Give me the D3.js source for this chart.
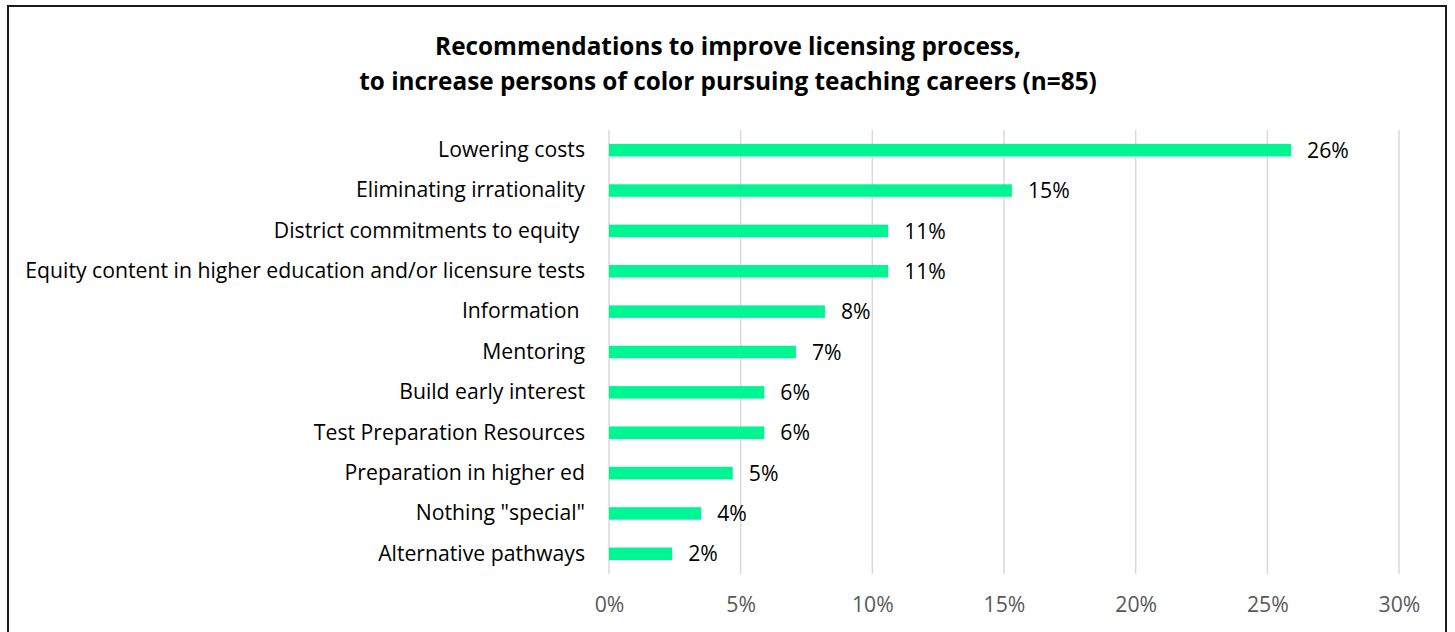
<!DOCTYPE html>
<html><head><meta charset="utf-8">
<script src="https://cdn.jsdelivr.net/npm/d3@7"></script>
<style>
html,body{margin:0;padding:0;background:#fff;}
text{white-space:pre;}
</style></head>
<body>
<svg id="chart" width="1455" height="632"></svg>
<script>
const titleLines = ["Recommendations to improve licensing process,", "to increase persons of color pursuing teaching careers (n=85)"];
const categories = ["Lowering costs","Eliminating irrationality","District commitments to equity ","Equity content in higher education and/or licensure tests","Information ","Mentoring","Build early interest","Test Preparation Resources","Preparation in higher ed","Nothing \"special\"","Alternative pathways"];
const values = [0.259, 0.153, 0.106, 0.106, 0.082, 0.071, 0.059, 0.059, 0.047, 0.035, 0.024];
const ticks = [0, 0.05, 0.10, 0.15, 0.20, 0.25, 0.30];

const FONT = "'Open Sans', sans-serif";
const svg = d3.select("#chart");
svg.append("rect").attr("x",8).attr("y",6).attr("width",1438).attr("height",640)
  .attr("fill","#fff").attr("stroke","#1a1a1a").attr("stroke-width",2);

const x = d3.scaleLinear().domain([0,0.30]).range([609,1399]);
const y = d3.scaleBand().domain(categories).range([130,574]).paddingInner(0.69).paddingOuter(0.345);

// title
const title = svg.append("g").selectAll("text").data(titleLines).join("text")
  .attr("x",728).attr("y",(d,i)=>55+i*35).attr("text-anchor","middle")
  .attr("font-family",FONT).attr("font-weight","bold").attr("font-size",22).attr("fill","#000").text(d=>d);
const tw = title.nodes()[1].getComputedTextLength();
title.attr("font-size", 22*738/tw);

// gridlines
svg.append("g").selectAll("line").data(ticks).join("line")
  .attr("x1",d=>x(d)).attr("x2",d=>x(d)).attr("y1",130).attr("y2",574)
  .attr("stroke","#d9d9d9").attr("stroke-width",1.5);

// y axis
const ya = svg.append("g").attr("transform","translate(609,0)")
  .call(d3.axisLeft(y).tickSize(0).tickPadding(24));
ya.select(".domain").remove();
ya.selectAll("text").attr("font-family",FONT).attr("font-size",18).attr("fill","#000").style("white-space","pre");
const lw = d3.max(ya.selectAll("text").nodes(), n=>n.getComputedTextLength());
const FS = 18*560/lw;
ya.selectAll("text").attr("font-size",FS);

// x axis
const xa = svg.append("g").attr("transform","translate(0,574)")
  .call(d3.axisBottom(x).tickValues(ticks).tickFormat(d3.format(".0%")).tickSize(0).tickPadding(23));
xa.select(".domain").remove();
xa.selectAll("text").attr("font-family",FONT).attr("font-size",FS).attr("fill","#595959");

// bars
svg.append("g").selectAll("rect").data(categories).join("rect")
  .attr("x",x(0)).attr("y",d=>y(d)).attr("height",y.bandwidth())
  .attr("width",(d,i)=>x(values[i])-x(0)).attr("fill","#00f593");

// value labels
svg.append("g").selectAll("text").data(categories).join("text")
  .attr("x",(d,i)=>x(values[i])+16).attr("y",d=>y(d)+y.bandwidth()/2).attr("dy","0.36em")
  .attr("font-family",FONT).attr("font-size",FS).attr("fill","#000")
  .text((d,i)=>d3.format(".0%")(values[i]));
</script>
</body></html>
